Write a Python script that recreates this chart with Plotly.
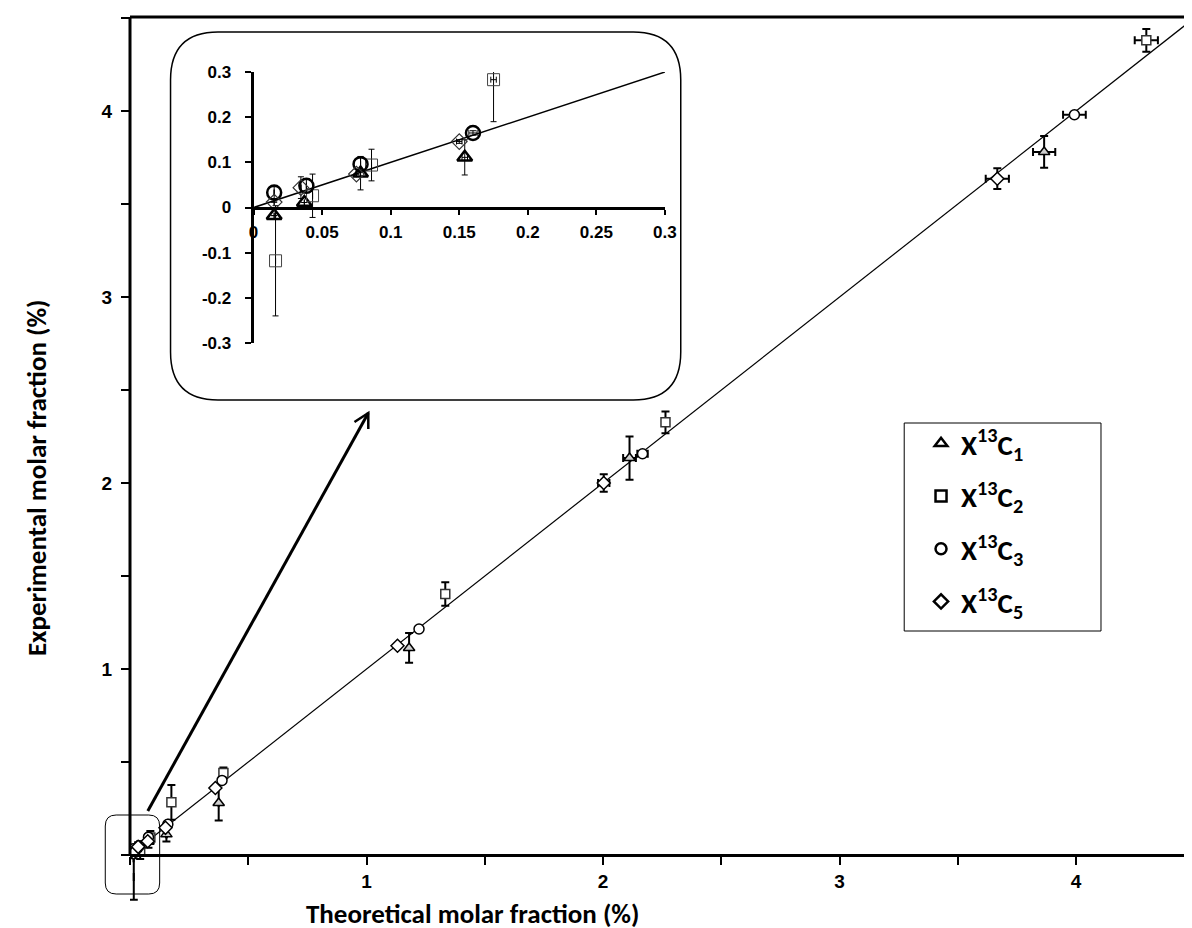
import plotly.graph_objects as go

# ---------------- data (theoretical x, experimental y, error bars) ----------------
c1_x = [0.015, 0.037, 0.078, 0.154, 0.375, 1.180, 2.112, 3.865]
c1_y = [-0.018, 0.011, 0.076, 0.111, 0.280, 1.113, 2.134, 3.780]
c1_ex = [None, None, None, 0.002, None, None, 0.027, 0.047]
c1_ey = [None, None, 0.037, 0.039, 0.095, 0.080, 0.116, 0.085]

c2_x = [0.016, 0.043, 0.086, 0.175, 0.395, 1.333, 2.264, 4.297]
c2_y = [-0.118, 0.026, 0.094, 0.283, 0.441, 1.403, 2.326, 4.380]
c2_ex = [None, None, None, 0.002, None, None, None, 0.049]
c2_ey = [0.122, 0.048, 0.035, 0.093, 0.030, 0.063, 0.059, 0.061]

c3_x = [0.015, 0.0385, 0.078, 0.160, 0.389, 1.222, 2.167, 3.993]
c3_y = [0.033, 0.048, 0.096, 0.165, 0.401, 1.215, 2.157, 3.980]
c3_ex = [None, None, None, 0.003, None, None, 0.022, 0.048]
c3_ey = [0.013, 0.015, 0.015, 0.005, None, None, None, None]

c5_x = [0.015, 0.0345, 0.075, 0.150, 0.361, 1.131, 2.003, 3.667]
c5_y = [0.012, 0.044, 0.074, 0.146, 0.360, 1.125, 2.000, 3.636]
c5_ex = [None, None, None, 0.002, None, None, 0.024, 0.049]
c5_ey = [None, 0.024, None, 0.004, None, None, 0.047, 0.056]

series_names = ["X<sup>13</sup>C<sub>1</sub>", "X<sup>13</sup>C<sub>2</sub>",
                "X<sup>13</sup>C<sub>3</sub>", "X<sup>13</sup>C<sub>5</sub>"]
identity_line = [0.0, 4.6]

main_x_ticks = [1, 2, 3, 4]
main_x_labels = ["1", "2", "3", "4"]
main_y_ticks = [1, 2, 3, 4]
main_y_labels = ["1", "2", "3", "4"]
inset_x_ticks = [0, 0.05, 0.1, 0.15, 0.2, 0.25, 0.3]
inset_x_labels = ["0", "0.05", "0.1", "0.15", "0.2", "0.25", "0.3"]
inset_y_ticks = [-0.3, -0.2, -0.1, 0, 0.1, 0.2, 0.3]
inset_y_labels = ["-0.3", "-0.2", "-0.1", "0", "0.1", "0.2", "0.3"]

# ---------------- layout geometry ----------------
W, H = 1192, 928
X_PER_UNIT, Y_PER_UNIT = 239.2, 186.0      # pixels per data unit of the main axes
ZERO_Y = 847                               # pixel row of y = 0 (main x axis)
ML, MR, MT, MB = 122, 0, 9, 25
PW, PH = W - ML - MR, H - MT - MB
Y_TOP = (ZERO_Y - MT) / Y_PER_UNIT
Y_BOT = -(H - MB - ZERO_Y) / Y_PER_UNIT


def px(x):  # pixel -> paper x
    return (x - ML) / PW


def py(y):  # pixel -> paper y
    return (H - MB - y) / PH


def bold(labels):
    return [f"<b>{t}</b>" for t in labels]


series = [
    (c1_x, c1_y, c1_ex, c1_ey),
    (c2_x, c2_y, c2_ex, c2_ey),
    (c3_x, c3_y, c3_ex, c3_ey),
    (c5_x, c5_y, c5_ex, c5_ey),
]

main_styles = [
    dict(symbol="triangle-up", size=10, color="#cfcfcf", line=dict(color="black", width=1.5)),
    dict(symbol="square", size=9, color="white", line=dict(color="#333333", width=1.5)),
    dict(symbol="circle", size=10, color="white", line=dict(color="black", width=1.5)),
    dict(symbol="diamond", size=10, color="white", line=dict(color="black", width=1.5)),
]
inset_styles = [
    dict(symbol="triangle-up-open", size=13, color="black", line=dict(color="black", width=2.5)),
    dict(symbol="square-open", size=12, color="#444444", line=dict(color="#444444", width=1)),
    dict(symbol="circle-open", size=14, color="black", line=dict(color="black", width=2.5)),
    dict(symbol="diamond-open", size=12, color="#333333", line=dict(color="#333333", width=1.2)),
]
legend_styles = [
    dict(symbol="triangle-up-open", size=11, color="black", line=dict(color="black", width=2.5)),
    dict(symbol="square-open", size=11, color="black", line=dict(color="black", width=2.5)),
    dict(symbol="circle-open", size=11, color="black", line=dict(color="black", width=2.5)),
    dict(symbol="diamond-open", size=11, color="black", line=dict(color="black", width=2.5)),
]

fig = go.Figure()

# identity (1:1) lines
fig.add_trace(go.Scatter(x=identity_line, y=identity_line, mode="lines",
                         line=dict(color="black", width=1.2), showlegend=False,
                         hoverinfo="skip"))
fig.add_trace(go.Scatter(x=identity_line, y=identity_line, mode="lines",
                         line=dict(color="black", width=1.5), showlegend=False,
                         xaxis="x2", yaxis="y2", hoverinfo="skip"))


def err(arr, thick, width):
    return dict(type="data", array=arr, symmetric=True, color="black",
                thickness=thick, width=width, visible=True)


for (sx, sy, sex, sey), ms, ins, name in zip(series, main_styles, inset_styles, series_names):
    opac = [1 if v >= 0 else 0 for v in sy]  # markers below the axis are not drawn
    fig.add_trace(go.Scatter(x=sx, y=sy, mode="markers", name=name, showlegend=False,
                             marker=dict(**ms, opacity=opac),
                             error_x=err(sex, 2, 4), error_y=err(sey, 2, 4)))
    fig.add_trace(go.Scatter(x=sx, y=sy, mode="markers", name=name, showlegend=False,
                             marker=ins, xaxis="x2", yaxis="y2",
                             error_x=err(sex, 1, 3), error_y=err(sey, 1, 3)))

for name, ls in zip(series_names, legend_styles):
    fig.add_trace(go.Scatter(x=[None], y=[None], mode="markers", name=f"<b>{name}</b>",
                             marker=ls, legendgroup=name, showlegend=True))

shapes = []
# main axis frame: left axis (from y=0 up) and top border
shapes.append(dict(type="line", xref="paper", yref="paper", x0=0, x1=0,
                   y0=py(ZERO_Y + 1), y1=1, line=dict(color="black", width=3)))
shapes.append(dict(type="line", xref="paper", yref="paper", x0=0, x1=1,
                   y0=1, y1=1, line=dict(color="black", width=3)))
# legend frame
shapes.append(dict(type="rect", xref="paper", yref="paper", x0=px(905), x1=px(1104),
                   y0=py(623), y1=py(415), line=dict(color="black", width=1)))


def rounded(x0, y0, x1, y1, r):
    rx, ry = r / PW, r / PH
    X0, X1, Y0, Y1 = px(x0), px(x1), py(y1), py(y0)
    return (f"M {X0+rx},{Y1} L {X1-rx},{Y1} Q {X1},{Y1} {X1},{Y1-ry} "
            f"L {X1},{Y0+ry} Q {X1},{Y0} {X1-rx},{Y0} L {X0+rx},{Y0} "
            f"Q {X0},{Y0} {X0},{Y0+ry} L {X0},{Y1-ry} Q {X0},{Y1} {X0+rx},{Y1} Z")


shapes.append(dict(type="path", xref="paper", yref="paper", path=rounded(163, 24, 679, 392, 48),
                   line=dict(color="black", width=1.5), layer="below"))
shapes.append(dict(type="path", xref="paper", yref="paper", path=rounded(97, 807, 152, 886, 11),
                   line=dict(color="black", width=1)))
# arrow from the zoom box to the inset
shapes.append(dict(type="line", xref="paper", yref="paper", x0=px(140), y0=py(803),
                   x1=px(363), y1=py(405), line=dict(color="black", width=3)))
shapes.append(dict(type="path", xref="paper", yref="paper",
                   path=f"M {px(349)},{py(414)} L {px(363)},{py(405)} L {px(363)},{py(421)}",
                   line=dict(color="black", width=2.5)))

title_font = dict(family="Carlito, Lato, sans-serif", size=27, color="black")
annotations = [
    dict(text="<b>Experimental molar fraction (%)</b>", xref="paper", yref="paper",
         x=px(27), y=py(470), xanchor="center", yanchor="middle", textangle=-90,
         showarrow=False, font=title_font),
    dict(text="<b>Theoretical molar fraction (%)</b>", xref="paper", yref="paper",
         x=px(468), y=py(905), xanchor="center", yanchor="middle", showarrow=False,
         font=title_font),
]

tick_font = dict(family="Liberation Sans, Arial", size=19, color="black")
inset_font = dict(family="Liberation Sans, Arial", size=17, color="black")

fig.update_layout(
    width=W, height=H, margin=dict(l=ML, r=MR, t=MT, b=MB),
    paper_bgcolor="white", plot_bgcolor="white",
    shapes=shapes, annotations=annotations,
    xaxis=dict(range=[0, PW / X_PER_UNIT], anchor="free", position=py(ZERO_Y),
               showline=True, linecolor="black", linewidth=3,
               ticks="outside", ticklen=8, tickwidth=2, tickcolor="black",
               tickvals=main_x_ticks, ticktext=bold(main_x_labels), tickfont=tick_font,
               ticklabelstandoff=0, showgrid=False, zeroline=False,
               minor=dict(ticks="outside", dtick=0.5, tick0=0, ticklen=8, tickwidth=2,
                          tickcolor="black", showgrid=False)),
    yaxis=dict(range=[Y_BOT, Y_TOP], showline=False,
               ticks="outside", ticklen=8, tickwidth=2, tickcolor="black",
               tickvals=main_y_ticks, ticktext=bold(main_y_labels), tickfont=tick_font,
               ticklabelstandoff=5, showgrid=False, zeroline=False,
               minor=dict(ticks="outside", dtick=0.5, tick0=0, ticklen=8, tickwidth=2,
                          tickcolor="black", showgrid=False)),
    xaxis2=dict(domain=[px(247), px(663)], range=[0, 0.3], anchor="free", position=py(200),
                showline=True, linecolor="black", linewidth=3, ticks="outside", ticklen=5,
                tickwidth=2, tickcolor="black", tickvals=inset_x_ticks,
                ticktext=bold(inset_x_labels), tickfont=inset_font, ticklabelstandoff=3,
                showgrid=False, zeroline=False),
    yaxis2=dict(domain=[py(335), py(64)], range=[-0.3, 0.3], anchor="x2",
                showline=True, linecolor="black", linewidth=3, ticks="outside", ticklen=6,
                tickwidth=2, tickcolor="black", tickvals=inset_y_ticks,
                ticktext=bold(inset_y_labels), tickfont=inset_font, ticklabelstandoff=10,
                showgrid=False, zeroline=False),
    legend=dict(x=px(922), y=py(410), xanchor="left", yanchor="top", bgcolor="rgba(0,0,0,0)",
                borderwidth=0, tracegroupgap=12, itemsizing="trace",
                font=dict(family="Carlito, Lato, sans-serif", size=29, color="black")),
    showlegend=True,
)

fig.write_html("out.html")
